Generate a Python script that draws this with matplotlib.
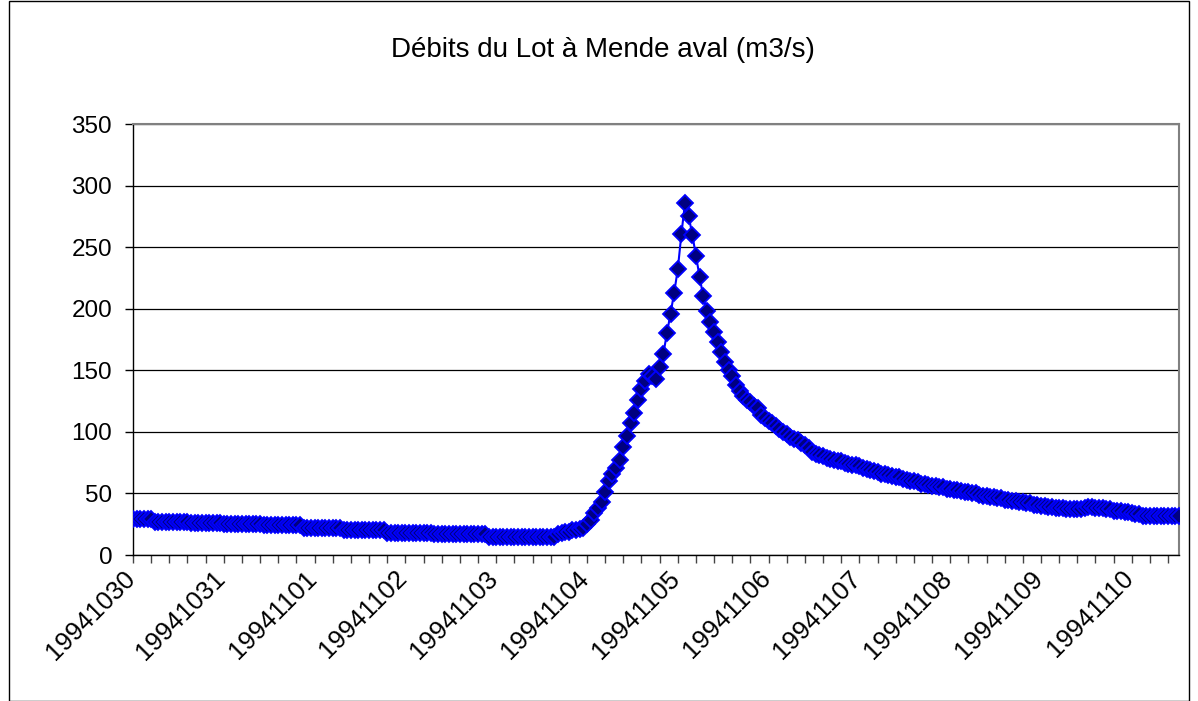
import matplotlib
matplotlib.use("Agg")
import matplotlib.pyplot as plt
from matplotlib.patches import Rectangle

plt.rcParams['font.family'] = ['Liberation Sans', 'DejaVu Sans']

title = "Débits du Lot à Mende aval (m3/s)"

# Hourly discharge (m3/s), one value per category
debits = [
    29, 29, 29, 29, 29, 29,
    27, 27, 27, 27, 27, 27, 27, 27, 27, 27,
    26, 26, 26, 26, 26, 26, 26, 26, 26,
    25, 25, 25, 25, 25, 25, 25, 25, 25, 25, 25,
    24, 24, 24, 24, 24, 24, 24, 24, 24, 24, 24,
    22, 22, 22, 22, 22, 22, 22, 22, 22, 22, 22,
    20, 20, 20, 20, 20, 20, 20, 20, 20, 20, 20, 20,
    18, 18, 18, 18, 18, 18, 18, 18, 18, 18, 18, 18, 18,
    17, 17, 17, 17, 17, 17, 17, 17, 17, 17, 17, 17, 17, 17, 17,
    15, 15, 15, 15, 15, 15, 15, 15, 15, 15, 15, 15, 15, 15, 15, 15, 15, 15, 15,
    17, 18, 19, 19, 20, 20, 21,
    22, 25, 28.5, 34, 38, 43, 51, 60, 66, 71, 77, 88, 97, 107, 115, 126,
    135, 141, 147, 145, 143, 153, 163, 180, 196, 213, 232, 261, 286,
    275, 260, 243, 226, 210, 198, 189, 181, 173, 165, 157, 150, 145,
    138, 133, 129, 126, 124, 121, 119, 114, 111, 109, 107, 105, 102,
    100, 98, 96, 94, 93, 91, 89, 87, 84, 82, 81, 80, 79, 78, 77, 76,
    76, 75, 74, 73, 73, 72, 71, 70, 69, 68, 67, 66, 66, 65, 64, 63,
    63, 62, 61, 60, 60, 59, 58, 58, 57, 56, 56, 55, 55, 54, 54, 53,
    53, 52, 51, 51, 50, 50, 49, 48, 48, 47, 47, 46, 46, 45, 45, 44,
    44, 43, 43, 42, 42, 41, 41, 40, 40, 39, 39, 38, 38, 38, 37, 37,
    37, 37, 37, 38, 39, 39, 38, 38, 38, 37, 37, 36, 36, 36, 35, 35,
    34, 33, 33, 32, 32, 32, 32, 32, 32, 32, 32, 32, 32, 32,
]

date_labels = ["19941030", "19941031", "19941101", "19941102", "19941103",
               "19941104", "19941105", "19941106", "19941107", "19941108",
               "19941109", "19941110"]
label_step = 25   # one date label every 25 categories
tick_step = 5     # one tick mark every 5 categories

y_ticks = [0, 50, 100, 150, 200, 250, 300, 350]

W, H = 1198, 701
fig = plt.figure(figsize=(W / 100, H / 100), dpi=100)
fig.patch.set_facecolor('white')

# outer chart border
fig.patches.append(Rectangle((9 / W, 0), (1189 - 9) / W, 1 - 1 / H,
                             transform=fig.transFigure, fill=False,
                             edgecolor='black', linewidth=1.0))

left, right, top, bottom = 133, 1179, 124, 555
ax = fig.add_axes([left / W, 1 - bottom / H, (right - left) / W, (bottom - top) / H])

x = list(range(len(debits)))
ax.plot(x, debits, color='#0000FF', linewidth=1.5, marker='D', markersize=8,
        markerfacecolor='#000080', markeredgecolor='#0000FF', markeredgewidth=1.3,
        zorder=3)

ax.set_xlim(0, len(debits) - 1)
ax.set_ylim(0, 350)
ax.set_yticks(y_ticks)
ax.set_yticklabels([str(v) for v in y_ticks], fontsize=17.5)
ax.yaxis.grid(True, color='black', linewidth=0.9)
ax.set_axisbelow(True)

ax.set_xticks(list(range(0, len(debits), tick_step)))
ax.set_xticklabels([])
label_pos = [i * label_step for i in range(len(date_labels))]
for pos, lab in zip(label_pos, date_labels):
    ax.text(pos - 2.9, -9, lab, rotation=45, ha='right', va='top',
            rotation_mode='anchor', fontsize=18.5)

ax.tick_params(axis='x', direction='out', length=6, width=1, color='#444444')
ax.tick_params(axis='y', direction='out', length=6, width=1, color='black', pad=9)

for side in ['top', 'right']:
    ax.spines[side].set_color('#808080')
    ax.spines[side].set_linewidth(1.5)
ax.spines['left'].set_color('black')
ax.spines['bottom'].set_color('black')
ax.spines['left'].set_linewidth(1.0)
ax.spines['bottom'].set_linewidth(1.0)

fig.text(603 / W, 1 - 50 / H, title, ha='center', va='center', fontsize=20)

fig.savefig('out.png', dpi=100, facecolor='white')
